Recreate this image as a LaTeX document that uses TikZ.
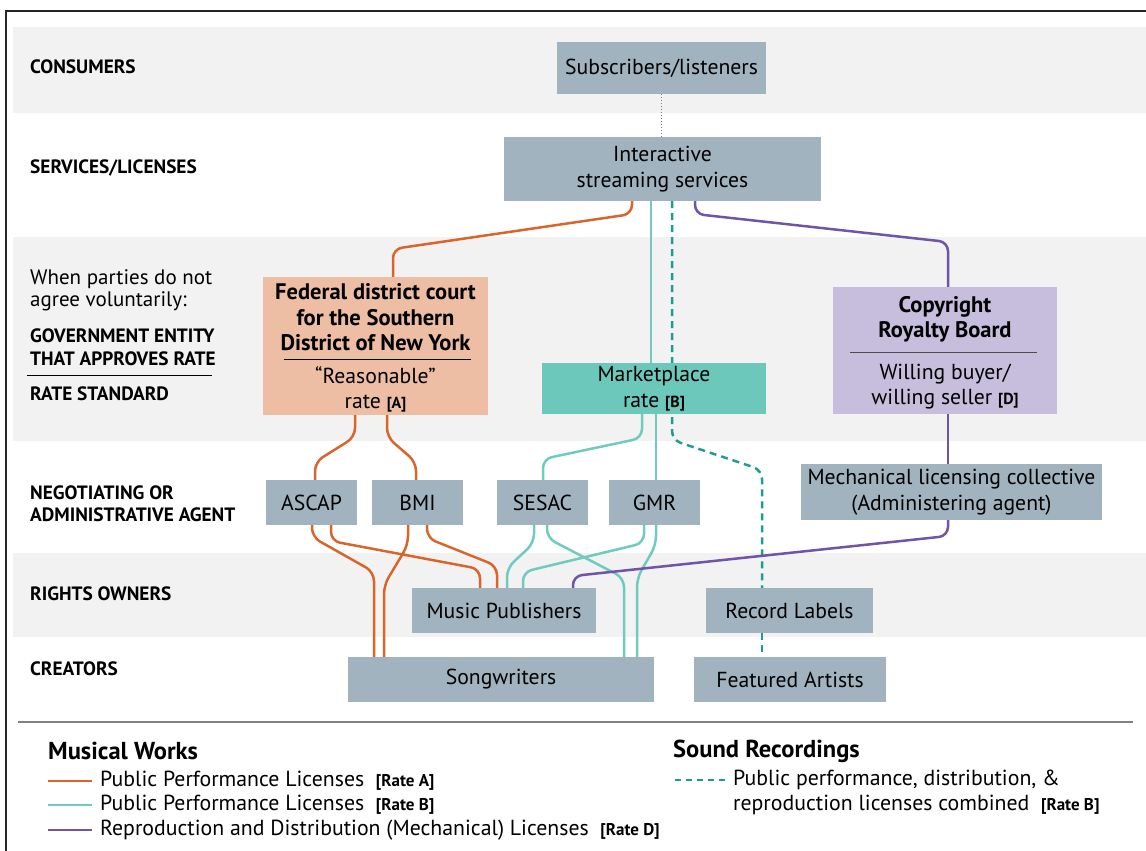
\documentclass[tikz,border=0pt]{standalone}
\usepackage{fontspec}
\setmainfont{PT Sans}
\usetikzlibrary{backgrounds}

\definecolor{bandgray}{HTML}{F2F2F2}
\definecolor{boxgray}{HTML}{A1B3BE}
\definecolor{salmon}{HTML}{EDBDA4}
\definecolor{tealbox}{HTML}{6CC8BB}
\definecolor{lavender}{HTML}{C6BEDC}
\definecolor{rateA}{HTML}{D9652B}
\definecolor{rateB}{HTML}{6FCBBE}
\definecolor{rateBdash}{HTML}{1E9C8C}
\definecolor{rateD}{HTML}{6F55A8}

\tikzset{
  box/.style={fill=boxgray, inner sep=0pt, align=center, font=\fontsize{21.7}{26}\selectfont},
  boxtext/.style={inner sep=0pt, align=center, font=\fontsize{21.7}{25}\selectfont},
  boldtext/.style={inner sep=0pt, align=center, font=\fontsize{22.5}{25.5}\selectfont\bfseries},
  rowlabel/.style={anchor=west, align=left, inner sep=0pt, font=\fontsize{19.3}{22.5}\selectfont\bfseries},
  legendhead/.style={anchor=west, inner sep=0pt, font=\fontsize{24.5}{28}\selectfont\bfseries},
  legendtext/.style={anchor=west, align=left, inner sep=0pt, font=\fontsize{21.8}{25}\selectfont},
  lineA/.style={rateA, line width=2.5pt, rounded corners=9pt},
  lineB/.style={rateB, line width=2.5pt, rounded corners=9pt},
  lineBdash/.style={rateBdash, line width=2.5pt, dash pattern=on 7pt off 5pt, rounded corners=9pt},
  lineD/.style={rateD, line width=2.5pt, rounded corners=9pt}
}
\newcommand{\ratetag}[1]{{\fontsize{16}{16}\selectfont\bfseries[#1]}}
\newcommand{\keytag}[1]{{\fontsize{17}{17}\selectfont\bfseries[#1]}}

\begin{document}
\begin{tikzpicture}[x=1pt, y=-1pt]
  \useasboundingbox (0,0) rectangle (1146,851);

  % row labels
  \node[rowlabel] (lcons) at (30,67) {CONSUMERS};
  \node[rowlabel] (lserv) at (30,168) {SERVICES/LICENSES};
  \node[rowlabel, font=\fontsize{21}{22}\selectfont] (lwhen) at (30,290) {When parties do not\\agree voluntarily:};
  \node[rowlabel] (lgov) at (30,347) {GOVERNMENT ENTITY\\THAT APPROVES RATE};
  \draw[black, line width=1pt] (27,375) -- (212,375);
  \node[rowlabel] (lstd) at (30,394) {RATE STANDARD};
  \node[rowlabel] (lneg) at (30,503.5) {NEGOTIATING OR\\ADMINISTRATIVE AGENT};
  \node[rowlabel] (lown) at (30,594) {RIGHTS OWNERS};
  \node[rowlabel] (lcre) at (30,669) {CREATORS};

  % boxes
  \node[box, minimum width=209, minimum height=52] (subs) at (661.5,68) {Subscribers/listeners};
  \node[box, minimum width=317, minimum height=64] (stream) at (662.5,169) {Interactive\\streaming services};
  \node[box, fill=salmon, minimum width=225, minimum height=138] (fed) at (375.5,346) {};
  \node[boldtext] (fedname) at (375.5,317.5) {Federal district court\\for the Southern\\District of New York};
  \draw[black, line width=1pt] (284,359) -- (471,359);
  \node[boxtext] (fedrate) at (375.5,389.5) {“Reasonable”\\rate \ratetag{A}};
  \node[box, fill=tealbox, minimum width=224, minimum height=51] (market) at (654,388.5) {Marketplace\\rate \ratetag{B}};
  \node[box, fill=lavender, minimum width=224, minimum height=127] (crb) at (945,350.5) {};
  \node[boldtext] (crbname) at (945,319.5) {Copyright\\Royalty Board};
  \draw[black!70, line width=1pt] (850,352) -- (1037,352);
  \node[boxtext] (crbrate) at (945,387) {Willing buyer/\\willing seller \ratetag{D}};
  \node[box, minimum width=91, minimum height=45] (ascap) at (311.5,502.5) {ASCAP};
  \node[box, minimum width=91, minimum height=45] (bmi) at (417.5,502.5) {BMI};
  \node[box, minimum width=91, minimum height=45] (sesac) at (542.5,502.5) {SESAC};
  \node[box, minimum width=91, minimum height=45] (gmr) at (654.5,502.5) {GMR};
  \node[box, minimum width=301, minimum height=56] (mlc) at (951.5,492) {Mechanical licensing collective\\(Administering agent)};
  \node[box, minimum width=184, minimum height=45] (mp) at (504,610.5) {Music Publishers};
  \node[box, minimum width=167, minimum height=45] (rl) at (789.5,610.5) {Record Labels};
  \node[box, minimum width=306, minimum height=45] (sw) at (501,679.5) {Songwriters};
  \node[box, minimum width=192, minimum height=45] (fa) at (790,679.5) {Featured Artists};

  % legend
  \draw[gray, line width=2pt] (18,722) -- (1133,722);
  \node[legendhead] (hmw) at (48,751) {Musical Works};
  \coordinate (keyA) at (48,781);
  \coordinate (keyB) at (48,805);
  \coordinate (keyD) at (48,830);
  \coordinate (keyS) at (675,780);
  \draw[lineA] (keyA) -- ++(44,0);
  \draw[lineB] (keyB) -- ++(44,0);
  \draw[lineD] (keyD) -- ++(44,0);
  \draw[lineBdash, dash pattern=on 6pt off 5pt] (keyS) -- ++(53,0);
  \node[legendtext] (tA) at (100,781) {Public Performance Licenses \ \keytag{Rate A}};
  \node[legendtext] (tB) at (100,805) {Public Performance Licenses \ \keytag{Rate B}};
  \node[legendtext] (tD) at (100,830) {Reproduction and Distribution (Mechanical) Licenses \ \keytag{Rate D}};
  \node[legendhead] (hsr) at (673,751) {Sound Recordings};
  \node[legendtext] (tS) at (733,792.5) {Public performance, distribution, \&\\reproduction licenses combined \ \keytag{Rate B}};

  % frame
  \draw[black!85, line width=1.5pt] (1146,11) -- (6,11) -- (6,851);

  \begin{scope}[on background layer]
    % bands
    \fill[bandgray] (13,27) rectangle (1146,113);
    \fill[bandgray] (13,237) rectangle (1146,441);
    \fill[bandgray] (13,553) rectangle (1146,637);
    % consumers
    \draw[gray, line width=1pt, dotted] (subs.south) -- (subs.south |- stream.north);
    % rate A
    \draw[lineA] (632,0 |- stream.south) -- (632,214) -- (393,249) -- (393,0 |- fed.north);
    \draw[lineA] (355,0 |- fed.south) -- (355,437) -- (315,462) -- (315,0 |- ascap.north);
    \draw[lineA] (387,0 |- fed.south) -- (387,437) -- (416,462) -- (416,0 |- bmi.north);
    \draw[lineA] (312,0 |- ascap.south) -- (312,537) -- (374,572) -- (374,0 |- sw.north);
    \draw[lineA] (331,0 |- ascap.south) -- (331,541) -- (480,569) -- (480,0 |- mp.north);
    \draw[lineA] (408,0 |- bmi.south) -- (408,545) -- (384,585) -- (384,0 |- sw.north);
    \draw[lineA] (427,0 |- bmi.south) -- (427,538) -- (497,566) -- (497,0 |- mp.north);
    % rate B
    \draw[lineB] (651,0 |- stream.south) -- (651,0 |- market.north);
    \draw[lineB] (642,0 |- market.south) -- (642,438) -- (543,459) -- (543,0 |- sesac.north);
    \draw[lineB] (656,0 |- market.south) -- (656,0 |- gmr.north);
    \draw[lineB] (534,0 |- sesac.south) -- (534,543) -- (507,568) -- (507,0 |- mp.north);
    \draw[lineB] (547,0 |- sesac.south) -- (547,538) -- (624,578) -- (624,0 |- sw.north);
    \draw[lineB] (644,0 |- gmr.south) -- (644,543) -- (523,572) -- (523,0 |- mp.north);
    \draw[lineB] (656,0 |- gmr.south) -- (656,545) -- (637,578) -- (637,0 |- sw.north);
    % sound recordings
    \draw[lineBdash] (672,0 |- stream.south) -- (672,440) -- (762,470) -- (762,0 |- rl.north);
    \draw[lineBdash] (762,0 |- rl.south) -- (762,0 |- fa.north);
    % rate D
    \draw[lineD] (695,0 |- stream.south) -- (695,214) -- (948,242) -- (948,0 |- crb.north);
    \draw[lineD] (948,0 |- crb.south) -- (948,0 |- mlc.north);
    \draw[lineD] (948,0 |- mlc.south) -- (948,536) -- (573,576) -- (573,0 |- mp.north);
  \end{scope}
\end{tikzpicture}
\end{document}
